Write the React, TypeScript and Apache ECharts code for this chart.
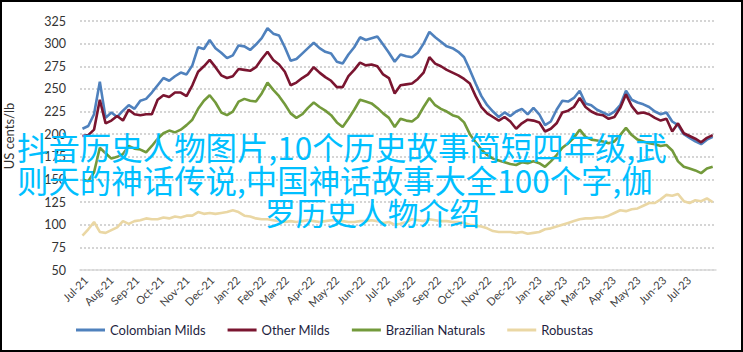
import React, { useEffect, useRef } from "react";
import * as echarts from "echarts";

// Month tick labels (x axis), one per month
const monthLabels = [
  "Jul-21", "Aug-21", "Sep-21", "Oct-21", "Nov-21", "Dec-21",
  "Jan-22", "Feb-22", "Mar-22", "Apr-22", "May-22", "Jun-22",
  "Jul-22", "Aug-22", "Sep-22", "Oct-22", "Nov-22", "Dec-22",
  "Jan-23", "Feb-23", "Mar-23", "Apr-23", "May-23", "Jun-23", "Jul-23",
];

// Axis origin: 24 Jun 2021. Weekly observations, first on 27 Jun 2021.
const axisStart = Date.UTC(2021, 5, 24);
const axisEndDay = 770;
const firstDay = 3;
const stepDays = 7;

const colombianMilds = [
  206, 209, 222, 258, 218, 224, 219, 226, 232, 228,
  237, 239, 246, 254, 262, 259, 264, 268, 266, 276,
  296, 294, 304, 295, 290, 284, 287, 298, 297, 293,
  299, 306, 317, 311, 309, 296, 281, 283, 289, 295,
  301, 295, 291, 289, 280, 278, 288, 296, 307, 304,
  306, 308, 299, 290, 280, 288, 286, 285, 290, 300,
  313, 307, 302, 297, 295, 291, 285, 271, 256, 242,
  232, 225, 219, 224, 220, 225, 228, 222, 229, 222,
  210, 214, 227, 237, 236, 240, 248, 234, 232, 227,
  224, 221, 225, 232, 248, 238, 235, 233, 230, 225,
  222, 224, 214, 210, 200, 196, 192, 189, 194, 197,
];

const otherMilds = [
  198, 199, 205, 238, 212, 215, 220, 215, 227, 222,
  221, 222, 222, 238, 243, 241, 246, 246, 242, 254,
  269, 275, 282, 274, 265, 262, 264, 272, 271, 270,
  274, 283, 291, 282, 277, 269, 254, 257, 262, 266,
  274, 268, 263, 259, 252, 252, 264, 271, 279, 276,
  277, 275, 266, 262, 245, 254, 255, 256, 261, 268,
  285, 278, 275, 271, 268, 265, 261, 256, 242, 230,
  223, 219, 215, 219, 214, 206, 212, 216, 215, 213,
  203, 206, 212, 224, 226, 230, 240, 230, 225, 222,
  221, 217, 219, 229, 244, 231, 223, 224, 222, 218,
  215, 217, 203, 212, 201, 198, 195, 191, 196, 199,
];

const brazilianNaturals = [
  150, 148, 158, 185, 179, 173, 175, 178, 187, 184,
  183, 180, 187, 195, 201, 204, 202, 205, 210, 216,
  228, 237, 243, 235, 224, 221, 225, 236, 239, 237,
  236, 245, 257, 249, 242, 233, 223, 218, 222, 229,
  235, 230, 226, 221, 213, 208, 217, 227, 238, 236,
  234, 229, 223, 218, 208, 217, 215, 214, 219, 230,
  240, 232, 228, 225, 221, 219, 213, 200, 191, 183,
  177, 173, 171, 169, 167, 166, 169, 168, 170, 168,
  164, 170, 177, 185, 190, 196, 205, 197, 194, 193,
  192, 190, 192, 199, 207, 199, 194, 192, 190, 189,
  187, 188, 182, 170, 164, 162, 160, 157, 162, 164,
];

const robustas = [
  88, 95, 103, 92, 91, 94, 97, 104, 101, 104,
  105, 107, 106, 106, 108, 107, 109, 108, 110, 110,
  114, 112, 113, 112, 113, 114, 116, 114, 110, 109,
  107, 106, 106, 105, 104, 103, 104, 103, 104, 105,
  104, 103, 104, 105, 105, 104, 103, 103, 104, 104,
  105, 104, 102, 103, 100, 101, 103, 106, 105, 104,
  106, 105, 104, 104, 103, 103, 102, 100, 99, 98,
  96, 93, 92, 92, 92, 91, 92, 90, 91, 92,
  95, 96, 98, 100, 102, 104, 106, 107, 107, 108,
  108, 110, 113, 116, 115, 117, 118, 121, 124, 124,
  128, 133, 132, 134, 126, 124, 127, 126, 129, 125,
];

const seriesNames = ["Colombian Milds", "Other Milds", "Brazilian Naturals", "Robustas"];
const seriesColors = ["#4F81BD", "#7A1530", "#739A3B", "#EAD7A4"];

const overlayLines = [
  "抖音历史人物图片,10个历史故事简短四年级,武",
  "则天的神话传说,中国神话故事大全100个字,伽",
  "罗历史人物介绍",
];

const FONT = "Lato, 'Open Sans', sans-serif";
const CJK_FONT = "'Noto Sans CJK SC', sans-serif";

function monthDay(label: string): number {
  const names = ["Jan", "Feb", "Mar", "Apr", "May", "Jun", "Jul", "Aug", "Sep", "Oct", "Nov", "Dec"];
  const [m, y] = label.split("-");
  const t = Date.UTC(2000 + Number(y), names.indexOf(m), 1);
  return Math.round((t - axisStart) / 86400000);
}

function fitFont(text: string, target: number): number {
  const c = document.createElement("canvas").getContext("2d");
  if (!c) return 30;
  c.font = `30px ${CJK_FONT}`;
  const w = c.measureText(text).width || target;
  return (30 * target) / w;
}

export default function App() {
  const ref = useRef<HTMLDivElement>(null);

  useEffect(() => {
    if (!ref.current) return;
    const chart = echarts.init(ref.current, undefined, { renderer: "svg" });
    const all = [colombianMilds, otherMilds, brazilianNaturals, robustas];
    const toPairs = (arr: number[]) => arr.map((v, i) => [firstDay + stepDays * i, v]);
    const tickDays = monthLabels.map(monthDay);
    const labelFor = (v: number) => {
      const k = tickDays.findIndex((d) => Math.abs(d - v) < 0.5);
      return k >= 0 ? monthLabels[k] : "";
    };

    const overlaySpec = [
      { x: 17, y: 146, width: 650 },
      { x: 17, y: 179, width: 636 },
      { x: 265, y: 211, width: 215 },
    ];

    chart.setOption({
      animation: false,
      backgroundColor: "#ffffff",
      grid: { left: 80, right: 27, top: 21, bottom: 82, containLabel: false },
      legend: {
        data: seriesNames,
        left: 71,
        top: 317,
        icon: "rect",
        itemWidth: 29,
        itemHeight: 3,
        itemGap: 22,
        textStyle: { fontFamily: FONT, fontSize: 13, color: "#1F1F3F", lineHeight: 16 },
      },
      xAxis: {
        type: "value",
        min: 0,
        max: axisEndDay,
        axisLine: { show: true, onZero: false, lineStyle: { color: "#D9D9D9", width: 1.5 } },
        axisTick: { show: false, customValues: tickDays },
        splitLine: { show: false },
        axisLabel: {
          customValues: tickDays,
          rotate: 45,
          margin: 8,
          fontFamily: FONT,
          fontSize: 11,
          color: "#404040",
          formatter: (v: number) => labelFor(v),
        },
      },
      yAxis: {
        type: "value",
        min: 50,
        max: 325,
        interval: 25,
        axisLine: { show: false },
        axisTick: { show: false },
        axisLabel: { fontFamily: FONT, fontSize: 12.5, color: "#333333", margin: 14 },
        splitLine: { show: true, lineStyle: { color: "#C8C8C8", width: 1.5, type: [2, 2] } },
      },
      series: all.map((arr, idx) => ({
        name: seriesNames[idx],
        type: "line",
        data: toPairs(arr),
        showSymbol: false,
        symbol: "none",
        lineStyle: { width: 2.6, color: seriesColors[idx] },
        itemStyle: { color: seriesColors[idx] },
        z: 2 + idx,
      })),
      graphic: [
        {
          type: "text",
          x: 9,
          y: 136,
          rotation: Math.PI / 2,
          style: {
            text: "US cents/lb",
            fill: "#333333",
            fontFamily: FONT,
            fontSize: 13,
            align: "center",
            verticalAlign: "middle",
          },
        },
        ...overlayLines.map((t, i) => ({
          type: "text",
          x: overlaySpec[i].x,
          y: overlaySpec[i].y,
          z: 100,
          style: {
            text: t,
            fill: "#00BFFF",
            fontFamily: CJK_FONT,
            fontSize: fitFont(t, overlaySpec[i].width),
            align: "left",
            verticalAlign: "middle",
          },
        })),
        {
          type: "rect",
          z: 101,
          shape: { x: 1, y: 1, width: 741, height: 350 },
          style: { fill: "none", stroke: "#000000", lineWidth: 2 },
        },
      ],
    });

    return () => chart.dispose();
  }, []);

  return (
    <div
      ref={ref}
      style={{ position: "absolute", left: 0, top: 0, width: 743, height: 352 }}
    />
  );
}
